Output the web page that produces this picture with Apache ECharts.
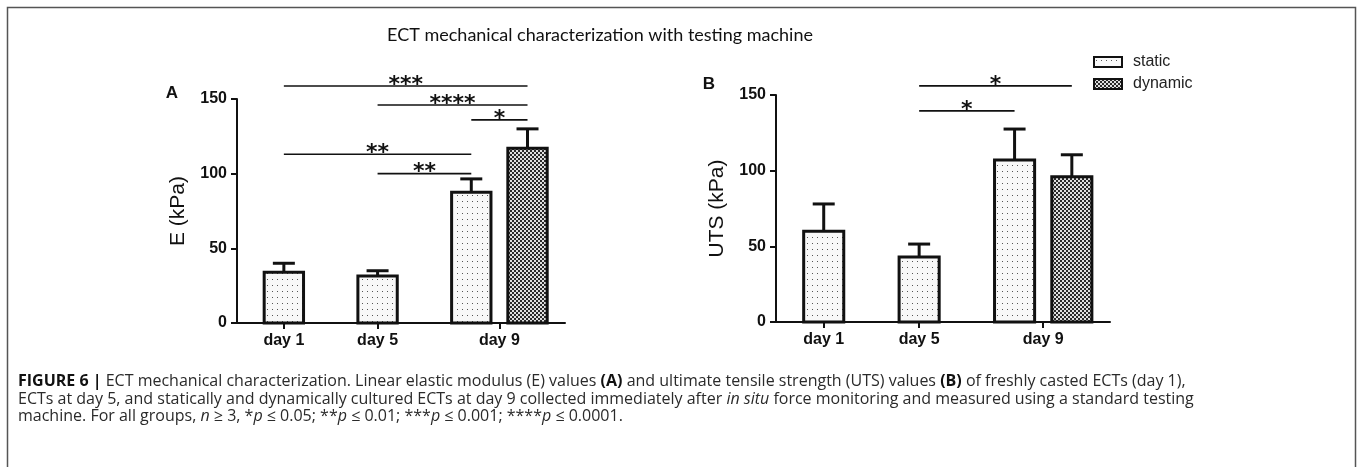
<!DOCTYPE html>
<html>

<head>
    <meta charset="UTF-8">
    <script src="https://cdn.jsdelivr.net/npm/echarts@6/dist/echarts.min.js"></script>
    <title>ECT mechanical characterization</title>
    <style>
        html, body { margin: 0; padding: 0; background: #fff; }
        #box { width: 1358px; height: 467px; }
    </style>
</head>

<body>
    <div id="box"></div>
    <script>
        // categories and where the groups sit on the x axis
        var days = ['day 1', 'day 5', 'day 9'];
        var dayPos = [1, 2, 3.3];
        var staticPos = [1, 2, 3];
        var dynamicPos = [3.6];

        // panel A: E (kPa), mean and upper SD
        var eStatic = [34, 31.5, 87.5];
        var eStaticSd = [6, 3.5, 9];
        var eDynamic = [117];
        var eDynamicSd = [13];
        // [from, to, height, stars]
        var eSig = [[1, 3.6, 158.7, '***'], [2, 3.6, 146, '****'], [3, 3.6, 136, '*'], [1, 3, 113, '**'], [2, 3, 100, '**']];

        // panel B: UTS (kPa)
        var utsStatic = [60, 43, 107];
        var utsStaticSd = [18, 8.5, 20.5];
        var utsDynamic = [96];
        var utsDynamicSd = [14.5];
        var utsSig = [[2, 3.6, 156, '*'], [2, 3, 139.5, '*']];

        var yTicks = [0, 50, 100, 150];

        var font = '"Liberation Sans", Arial, sans-serif';
        var capFont = '"Open Sans", "Noto Sans", sans-serif';

        /* fill patterns */
        function dots() {
            var c = document.createElement('canvas');
            c.width = 5; c.height = 6;
            var g = c.getContext('2d');
            g.fillStyle = '#f8f8f8'; g.fillRect(0, 0, 5, 6);
            g.fillStyle = '#555'; g.fillRect(2, 3, 1, 1);
            return c;
        }
        function checker() {
            var c = document.createElement('canvas');
            c.width = 4; c.height = 4;
            var g = c.getContext('2d');
            g.fillStyle = '#e0e0e0'; g.fillRect(0, 0, 4, 4);
            g.fillStyle = '#2a2a2a'; g.fillRect(0, 0, 2, 2); g.fillRect(2, 2, 2, 2);
            return c;
        }
        var staticFill = { image: dots(), repeat: 'repeat' };
        var dynamicFill = { image: checker(), repeat: 'repeat' };

        var barW = 0.42;

        function renderBar(fill) {
            return function (params, api) {
                var x = api.value(0), y = api.value(1), sd = api.value(2);
                var tl = api.coord([x - barW / 2, y]);
                var br = api.coord([x + barW / 2, 0]);
                var top = api.coord([x, y + sd]);
                var mid = api.coord([x, y]);
                return {
                    type: 'group',
                    children: [{
                        type: 'line',
                        shape: { x1: mid[0], y1: mid[1], x2: top[0], y2: top[1] },
                        style: { stroke: '#111', lineWidth: 3 }
                    }, {
                        type: 'line',
                        shape: { x1: top[0] - 11, y1: top[1], x2: top[0] + 11, y2: top[1] },
                        style: { stroke: '#111', lineWidth: 3 }
                    }, {
                        type: 'rect',
                        shape: { x: tl[0], y: tl[1], width: br[0] - tl[0], height: br[1] - tl[1] },
                        style: { fill: fill, stroke: '#111', lineWidth: 3 }
                    }]
                };
            };
        }

        function renderSig(list) {
            return function (params, api) {
                var a = api.coord([api.value(0), api.value(2)]);
                var b = api.coord([api.value(1), api.value(2)]);
                return {
                    type: 'group',
                    children: [{
                        type: 'line',
                        shape: { x1: a[0], y1: a[1], x2: b[0], y2: b[1] },
                        style: { stroke: '#111', lineWidth: 1.6 }
                    }, {
                        type: 'text',
                        style: {
                            text: list[params.dataIndex][3],
                            x: (a[0] + b[0]) / 2, y: a[1] - 1,
                            align: 'center', verticalAlign: 'middle',
                            font: 'bold 22px "DejaVu Sans", sans-serif',
                            fill: '#111'
                        }
                    }]
                };
            };
        }

        function xAxis(grid) {
            return {
                type: 'value', gridIndex: grid, min: 0.5, max: 4,
                splitLine: { show: false },
                axisLine: { show: true, onZero: false, lineStyle: { color: '#111', width: 2 } },
                axisTick: { show: true, customValues: dayPos, length: 6, lineStyle: { color: '#111', width: 2 } },
                axisLabel: {
                    customValues: dayPos, margin: 10,
                    fontFamily: font, fontWeight: 'bold', fontSize: 16, color: '#111',
                    formatter: function (v) {
                        for (var i = 0; i < dayPos.length; i++) {
                            if (Math.abs(dayPos[i] - v) < 1e-6) return days[i];
                        }
                        return '';
                    }
                }
            };
        }

        function yAxis(grid, name) {
            return {
                type: 'value', gridIndex: grid, min: 0, max: 150, interval: 50,
                name: name, nameLocation: 'middle', nameGap: 48,
                nameTextStyle: { fontFamily: font, fontSize: 21, color: '#111' },
                splitLine: { show: false },
                axisLine: { show: true, onZero: false, lineStyle: { color: '#111', width: 2 } },
                axisTick: { show: true, customValues: yTicks, length: 6, lineStyle: { color: '#111', width: 2 } },
                axisLabel: { margin: 10, fontFamily: font, fontWeight: 'bold', fontSize: 16, color: '#111' }
            };
        }

        function pairs(pos, v, sd) {
            return pos.map(function (x, i) { return [x, v[i], sd[i]]; });
        }

        var chart = echarts.init(document.getElementById('box'), null, { renderer: 'canvas' });

        var option = {
            animation: false,
            legend: {
                data: ['static', 'dynamic'],
                orient: 'vertical', left: 1093, top: 54, padding: 0,
                icon: 'rect', itemWidth: 28, itemHeight: 10, itemGap: 6,
                itemStyle: { borderColor: '#111', borderWidth: 2 },
                textStyle: { fontFamily: font, fontSize: 16, color: '#222', padding: [0, 0, 0, 6] }
            },
            grid: [
                { left: 237, right: 793, top: 99, bottom: 144 },
                { left: 776, right: 248, top: 95, bottom: 145 }
            ],
            xAxis: [xAxis(0), xAxis(1)],
            yAxis: [yAxis(0, 'E (kPa)'), yAxis(1, 'UTS (kPa)')],
            series: [
                { name: 'static', type: 'custom', xAxisIndex: 0, yAxisIndex: 0, itemStyle: { color: staticFill },
                  renderItem: renderBar(staticFill), data: pairs(staticPos, eStatic, eStaticSd) },
                { name: 'dynamic', type: 'custom', xAxisIndex: 0, yAxisIndex: 0, itemStyle: { color: dynamicFill },
                  renderItem: renderBar(dynamicFill), data: pairs(dynamicPos, eDynamic, eDynamicSd) },
                { name: 'static', type: 'custom', xAxisIndex: 1, yAxisIndex: 1, itemStyle: { color: staticFill },
                  renderItem: renderBar(staticFill), data: pairs(staticPos, utsStatic, utsStaticSd) },
                { name: 'dynamic', type: 'custom', xAxisIndex: 1, yAxisIndex: 1, itemStyle: { color: dynamicFill },
                  renderItem: renderBar(dynamicFill), data: pairs(dynamicPos, utsDynamic, utsDynamicSd) },
                { type: 'custom', xAxisIndex: 0, yAxisIndex: 0, clip: false, silent: true,
                  renderItem: renderSig(eSig), data: eSig.map(function (s) { return s.slice(0, 3); }) },
                { type: 'custom', xAxisIndex: 1, yAxisIndex: 1, clip: false, silent: true,
                  renderItem: renderSig(utsSig), data: utsSig.map(function (s) { return s.slice(0, 3); }) }
            ],
            graphic: [
                /* frame */
                { type: 'polyline', silent: true,
                  shape: { points: [[7.5, 470], [7.5, 7.5], [1355.5, 7.5], [1355.5, 470]] },
                  style: { stroke: '#555', lineWidth: 1.5, fill: null } },
                /* title */
                { type: 'text', x: 600, y: 35,
                  style: { text: 'ECT mechanical characterization with testing machine', align: 'center', verticalAlign: 'middle',
                           font: '18px Lato, "Open Sans", sans-serif', fill: '#111' } },
                /* panel letters */
                { type: 'text', x: 172, y: 93,
                  style: { text: 'A', align: 'center', verticalAlign: 'middle', font: 'bold 17px ' + font, fill: '#111' } },
                { type: 'text', x: 709, y: 84,
                  style: { text: 'B', align: 'center', verticalAlign: 'middle', font: 'bold 17px ' + font, fill: '#111' } },
                /* caption */
                { type: 'text', x: 18, y: 373,
                  style: {
                      text: '{b|FIGURE 6 |} ECT mechanical characterization. Linear elastic modulus (E) values {b|(A)} and ultimate tensile strength (UTS) values {b|(B)} of freshly casted ECTs (day 1),\n' +
                            'ECTs at day 5, and statically and dynamically cultured ECTs at day 9 collected immediately after {i|in situ} force monitoring and measured using a standard testing\n' +
                            'machine. For all groups, {i|n} \u2265 3, *{i|p} \u2264 0.05; **{i|p} \u2264 0.01; ***{i|p} \u2264 0.001; ****{i|p} \u2264 0.0001.',
                      verticalAlign: 'top',
                      fontFamily: capFont, fontSize: 16, lineHeight: 17.5, fill: '#2a2a2a',
                      rich: {
                          b: { fontFamily: capFont, fontSize: 16, lineHeight: 17.5, fontWeight: 'bold', fill: '#111' },
                          i: { fontFamily: capFont, fontSize: 16, lineHeight: 17.5, fontStyle: 'italic', fill: '#2a2a2a' }
                      }
                  } }
            ]
        };

        chart.setOption(option);
    </script>
</body>

</html>
